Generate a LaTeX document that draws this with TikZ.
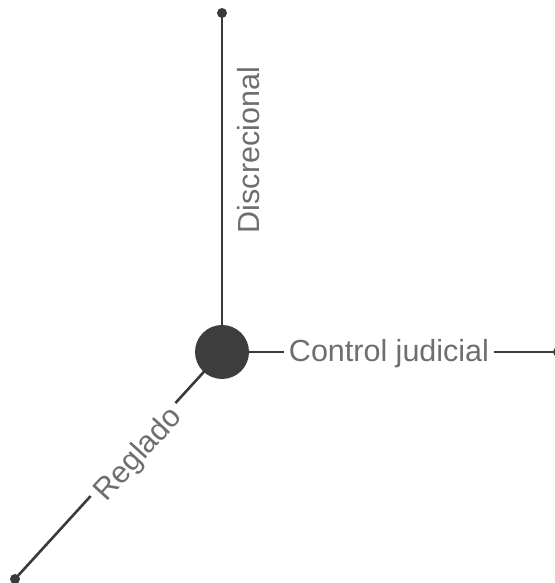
\documentclass[tikz,border=0pt]{standalone}
\usepackage{fontspec}
\setmainfont{Liberation Sans}
\definecolor{linecol}{HTML}{3A3A3A}
\definecolor{hubcol}{HTML}{3D3D3D}
\definecolor{txtcol}{HTML}{6E6E72}
\tikzset{
  x=1pt, y=1pt,
  conn/.style={draw=linecol, line width=2.6pt},
  enddot/.style={circle, fill=linecol, inner sep=0pt, minimum size=10pt},
  hub/.style={circle, fill=hubcol, inner sep=0pt, minimum size=54pt},
  lbl/.style={text=txtcol, font=\fontsize{30.5}{36}\selectfont, inner sep=5pt}
}
\begin{document}
\begin{tikzpicture}
\useasboundingbox (0,0) rectangle (554,583);
\node[enddot] (top) at (222,570) {};
\node[enddot] (right) at (558,231) {};
\node[enddot] (bl) at (15,4) {};
\draw[conn] (222,231) -- (bl.center);
\node[hub] (c) at (222,231) {};
\node[lbl, text height=22pt, text depth=2pt] (ctl) at (389,231) {Control judicial};
\node[lbl, rotate=90] (dis) at (249,433) {Discrecional};
\node[lbl, rotate=47.6, fill=white, inner xsep=6pt, inner ysep=2pt] (reg) at (139,128) {Reglado};
\draw[conn] (top.center) -- (c);
\draw[conn] (c) -- (ctl.west);
\draw[conn] (ctl.east) -- (right.center);
\end{tikzpicture}
\end{document}
